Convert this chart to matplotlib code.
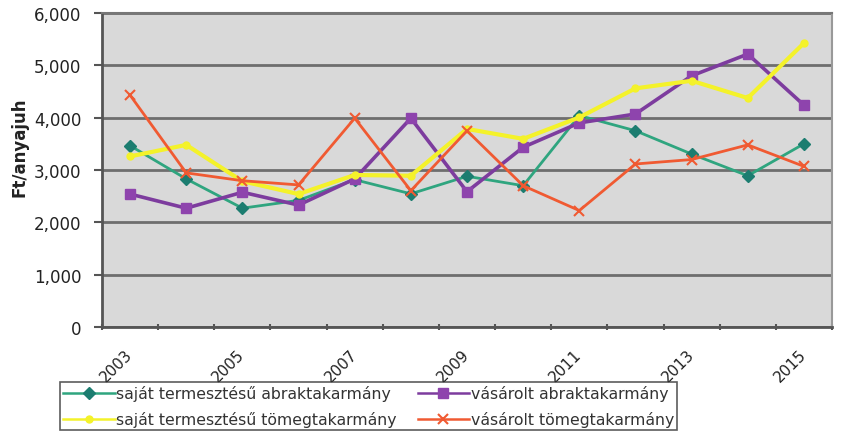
import matplotlib
matplotlib.use("Agg")
import matplotlib.pyplot as plt
import numpy as np

years = list(range(2003, 2016))
tick_labels = ["2003", "2005", "2007", "2009", "2011", "2013", "2015"]

sajat_abrak = [3465, 2830, 2270, 2420, 2815, 2545, 2880, 2700, 4040, 3750, 3305, 2890, 3500]
vasarolt_abrak = [2540, 2270, 2575, 2330, 2830, 3990, 2585, 3435, 3900, 4070, 4800, 5215, 4240]
sajat_tomeg = [3260, 3480, 2785, 2540, 2905, 2890, 3785, 3595, 4005, 4560, 4705, 4375, 5425]
vasarolt_tomeg = [4430, 2945, 2795, 2715, 3990, 2605, 3750, 2700, 2225, 3115, 3200, 3480, 3070]

names = ["saját termesztésű abraktakarmány", "vásárolt abraktakarmány",
         "saját termesztésű tömegtakarmány", "vásárolt tömegtakarmány"]

plt.rcParams['font.family'] = ['DejaVu Sans']

fig = plt.figure(figsize=(8.43, 4.35), dpi=100)
ax = fig.add_axes([102/843, 1-328/435, (832-102)/843, (328-14)/435])
ax.set_facecolor('#d9d9d9')

x = np.arange(len(years))
h1, = ax.plot(x, sajat_abrak, color='#2fa57f', lw=2, marker='D', ms=6,
              mfc='#1c7d70', mec='#1c7d70', label=names[0], zorder=3)
h2, = ax.plot(x, vasarolt_abrak, color='#7d3c9e', lw=2.6, marker='s', ms=7,
              mfc='#8e44ad', mec='#8e44ad', label=names[1], zorder=3)
h3, = ax.plot(x, sajat_tomeg, color='#f4f22a', lw=3, marker='o', ms=5,
              mfc='#f4f22a', mec='#f4f22a', label=names[2], zorder=3)
h4, = ax.plot(x, vasarolt_tomeg, color='#f05a32', lw=2, marker='x', ms=7,
              mew=1.5, mec='#f05a32', label=names[3], zorder=3)

ax.set_xlim(-0.5, len(years) - 0.5)
ax.set_ylim(0, 6000)
ax.set_yticks(range(0, 6001, 1000))
ax.set_yticklabels([f"{v:,}" for v in range(0, 6001, 1000)])
ax.yaxis.grid(True, color='#6e6e6e', lw=2)
ax.set_axisbelow(True)

ax.set_xticks(x[::2])
ax.set_xticklabels(tick_labels, rotation=45, ha='right', va='center', rotation_mode='anchor')
ax.set_xticks(np.arange(-0.5, len(years), 1), minor=True)
ax.tick_params(axis='x', which='major', length=0, pad=18, labelsize=11, labelcolor='#222222')
ax.tick_params(axis='x', which='minor', length=5, width=1.5, color='#555555', direction='inout')
ax.tick_params(axis='y', length=6, width=1.5, color='#555555', direction='out',
               labelsize=12, labelcolor='#222222', pad=9)

for s in ['left', 'bottom']:
    ax.spines[s].set_color('#555555')
    ax.spines[s].set_linewidth(2)
ax.spines['top'].set_color('#777777')
ax.spines['top'].set_linewidth(1.5)
ax.spines['right'].set_color('#999999')
ax.spines['right'].set_linewidth(1.5)

fig.text(20/843, 1-147/435, "Ft/anyajuh", rotation=90, fontsize=12, fontweight='bold',
         color='#222222', ha='center', va='center')

leg = fig.legend(handles=[h1, h3, h2, h4], loc='upper left',
                 bbox_to_anchor=(60/843, 1-383/435), ncol=2, fontsize=11.3,
                 frameon=True, fancybox=False, edgecolor='#333333',
                 handlelength=3.3, handletextpad=0.1, columnspacing=1.3,
                 borderpad=0.2, labelspacing=0.65, borderaxespad=0)
leg.get_frame().set_linewidth(1.2)
for t in leg.get_texts():
    t.set_color('#333333')
for lh in leg.get_lines():
    lh.set_linewidth(1.8)

fig.savefig("out.png", dpi=100, facecolor='white')
